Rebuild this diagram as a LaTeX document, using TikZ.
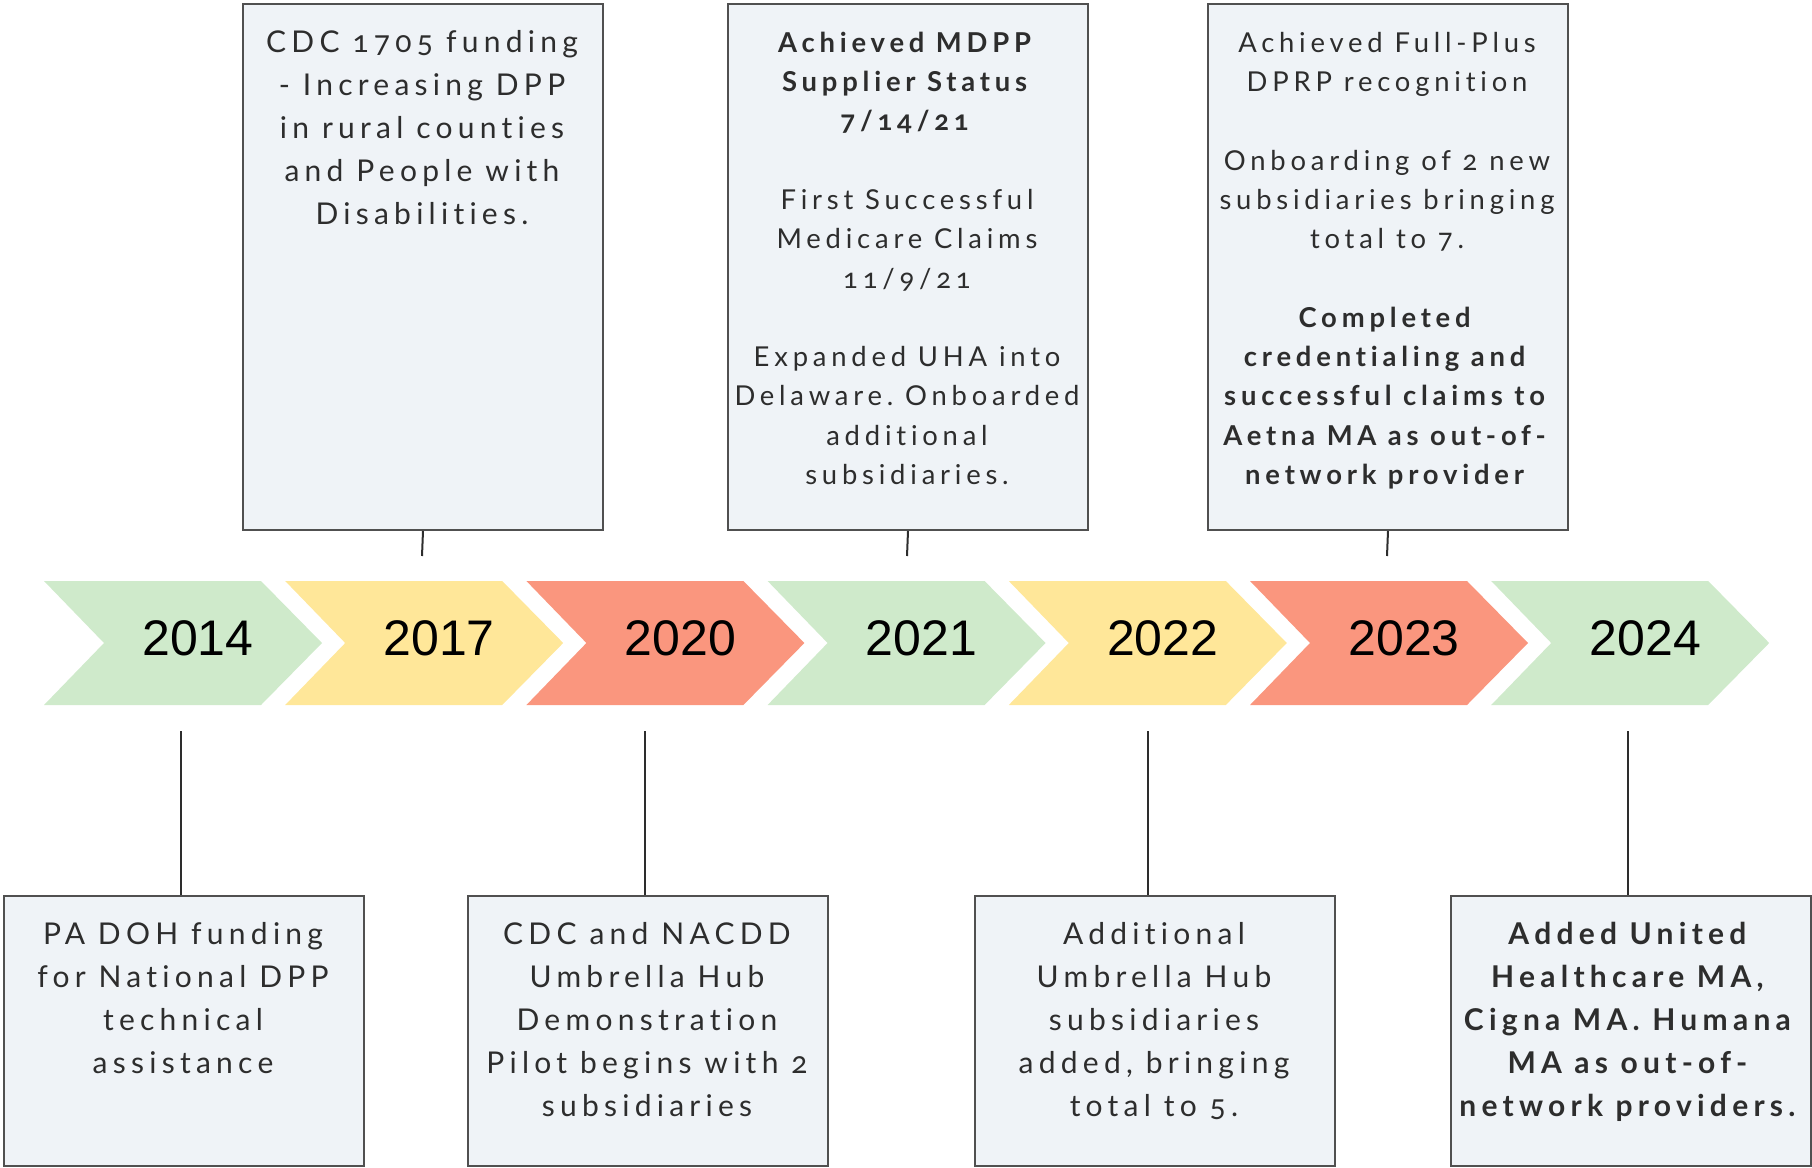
\documentclass[tikz,border=0pt]{standalone}
\usepackage{fontspec}
\setmainfont{Lato}[LetterSpace=17.5,Numbers=OldStyle,Ligatures={NoCommon}]
\newfontfamily\yearfont{Liberation Sans}
\usetikzlibrary{calc}
\frenchspacing

\definecolor{chgreen}{RGB}{207,234,203}
\definecolor{chyellow}{RGB}{255,231,153}
\definecolor{chsalmon}{RGB}{250,150,126}
\definecolor{boxfill}{RGB}{239,243,247}
\definecolor{boxline}{RGB}{80,80,80}
\definecolor{textgray}{RGB}{45,45,45}
\definecolor{linkgray}{RGB}{45,45,45}

\newcommand\capstrut{\rule{0pt}{22pt}}

\begin{document}
\begin{tikzpicture}[x=1pt,y=-1pt,
  card/.style={draw=boxline,line width=2pt,fill=boxfill,inner sep=0pt,
               anchor=north west,minimum width=360pt},
  topcard/.style={card,minimum height=526pt},
  botcard/.style={card,minimum height=270pt},
  note/.style={inner sep=0pt,anchor=north,align=center,text=textgray,
               font=\fontsize{30}{43}\selectfont},
  densenote/.style={note,font=\fontsize{27.4}{39.3}\selectfont},
  year/.style={inner sep=0pt,anchor=base,text=black,
               font=\yearfont\fontsize{50}{60}\selectfont},
  link/.style={draw=linkgray,line width=2pt},
]
\useasboundingbox (0,0) rectangle (1812,1167);

% chevron band
\foreach \i/\yr/\col in {0/2014/chgreen,1/2017/chyellow,2/2020/chsalmon,
                         3/2021/chgreen,4/2022/chyellow,5/2023/chsalmon,
                         6/2024/chgreen}{
  \pgfmathsetmacro{\L}{44+241.2*\i}
  \fill[\col] (\L,581) -- (\L+217,581) -- (\L+278,643) -- (\L+217,705)
              -- (\L,705) -- (\L+60,643) -- cycle;
  \node[year] (y\yr) at (\L+154,655) {\yr};
}

% cards above the band
\node[topcard] (t2017) at (242,3) {};
\node[topcard] (t2021) at (727,3) {};
\node[topcard] (t2023) at (1207,3) {};

% cards below the band
\node[botcard] (b2014) at (3,895) {};
\node[botcard] (b2020) at (467,895) {};
\node[botcard] (b2022) at (974,895) {};
\node[botcard] (b2024) at (1450,895) {};

% card texts
\node[note] (n2017) at (422,30) {\capstrut CDC 1705 funding\\- Increasing DPP\\in rural counties\\and People with\\Disabilities.};

\node[densenote] (n2021) at (907,30) {\capstrut\textbf{Achieved MDPP}\\\textbf{Supplier Status}\\\textbf{7/14/21}\\[39.3pt]
  First Successful\\Medicare Claims\\11/9/21\\[39.3pt]
  Expanded UHA into\\Delaware. Onboarded\\additional\\subsidiaries.};

\node[densenote] (n2023) at (1387,30) {\capstrut Achieved Full-Plus\\DPRP recognition\\[39.3pt]
  Onboarding of 2 new\\subsidiaries bringing\\total to 7.\\[39.3pt]
  \textbf{Completed}\\\textbf{credentialing and}\\\textbf{successful claims to}\\
  \textbf{Aetna MA as out-of-}\\\textbf{network provider}};

\node[note] (n2014) at (183,922) {\capstrut PA DOH funding\\for National DPP\\technical\\assistance};
\node[note] (n2020) at (647,922) {\capstrut CDC and NACDD\\Umbrella Hub\\Demonstration\\Pilot begins with 2\\subsidiaries};
\node[note] (n2022) at (1154,922) {\capstrut Additional\\Umbrella Hub\\subsidiaries\\added, bringing\\total to 5.};
\node[note] (n2024) at (1630,922) {\capstrut\textbf{Added United}\\\textbf{Healthcare MA,}\\\textbf{Cigna MA. Humana}\\
  \textbf{MA as out-of-}\\\textbf{network providers.}};

% connector ends next to the band
\coordinate (k2017) at (422,556);
\coordinate (k2021) at (907,556);
\coordinate (k2023) at (1387,556);
\coordinate (k2014) at (181,731);
\coordinate (k2020) at (645,731);
\coordinate (k2022) at (1148,731);
\coordinate (k2024) at (1628,731);

% connectors
\draw[link] (t2017.south) -- (k2017);
\draw[link] (t2021.south) -- (k2021);
\draw[link] (t2023.south) -- (k2023);
\draw[link] (k2014) -- (k2014 |- b2014.north);
\draw[link] (k2020) -- (k2020 |- b2020.north);
\draw[link] (k2022) -- (k2022 |- b2022.north);
\draw[link] (k2024) -- (k2024 |- b2024.north);
\end{tikzpicture}
\end{document}
